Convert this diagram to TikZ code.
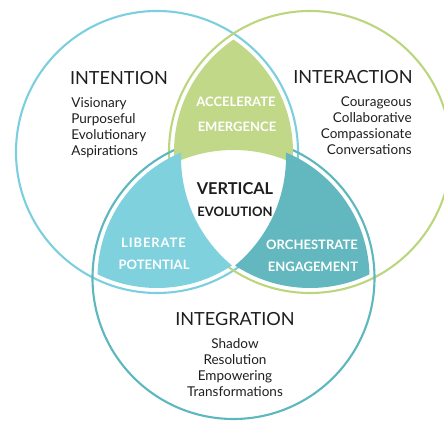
\documentclass[tikz,border=0pt]{standalone}
\usepackage{fontspec}
\setmainfont{Lato}

\definecolor{intentionblue}{HTML}{7CCFDF}
\definecolor{interactiongreen}{HTML}{BCD67E}
\definecolor{integrationteal}{HTML}{5DB7BF}
\definecolor{acceleratefill}{HTML}{C2D889}
\definecolor{liberatefill}{HTML}{80D1DE}
\definecolor{orchestratefill}{HTML}{62B8BE}
\definecolor{ink}{HTML}{1E1E1E}

\tikzset{
  ring/.style={line width=1.2pt},
  heading/.style={text=ink, font=\fontsize{10.3}{12}\selectfont, inner sep=0, anchor=base},
  body/.style={text=ink, font=\fontsize{7.7}{9.1}\selectfont, inner sep=0},
  lenslabel/.style={text=white, font=\bfseries\fontsize{7.4}{9}\selectfont, inner sep=0, anchor=base},
}

\begin{document}
\begin{tikzpicture}[x=0.02cm, y=-0.02cm]
        \useasboundingbox (0,0) rectangle (444,421);
        \clip (0,0) rectangle (444,421);

        % ring centres
        \coordinate (L) at (157,152);
        \coordinate (R) at (310,152);
        \coordinate (B) at (233.5,278);
        % arcs around the middle
        \coordinate (Lm) at (145,157);
        \coordinate (Rm) at (322,157);
        \coordinate (Bm) at (233.5,291);

        \draw[ring, intentionblue]    (L) circle (141);
        \draw[ring, interactiongreen] (R) circle (141);
        \draw[ring, integrationteal]  (B) circle (141);

        % the three lenses
        \begin{scope}
            \clip (L) circle (136);
            \clip (R) circle (136);
            \fill[acceleratefill, even odd rule] (0,0) rectangle (444,421) (Bm) circle (141);
        \end{scope}
        \begin{scope}
            \clip (L) circle (136);
            \clip (B) circle (136);
            \fill[liberatefill, even odd rule] (0,0) rectangle (444,421) (Rm) circle (141);
        \end{scope}
        \begin{scope}
            \clip (R) circle (136);
            \clip (B) circle (136);
            \fill[orchestratefill, even odd rule] (0,0) rectangle (444,421) (Lm) circle (141);
        \end{scope}

        \node[heading] (intention) at (119,84.5) {INTENTION};
        \node[body, anchor=north west, align=left] (intentionlist) at (71,97)
            {Visionary\\Purposeful\\Evolutionary\\Aspirations};

        \node[heading] (interaction) at (353,83.5) {INTERACTION};
        \node[body, anchor=north east, align=right] (interactionlist) at (412,96.5)
            {Courageous\\Collaborative\\Compassionate\\Conversations};

        \node[heading] (integration) at (235,325.5) {INTEGRATION};
        \node[body, anchor=north, align=center] (integrationlist) at (235,338.5)
            {Shadow\\Resolution\\Empowering\\Transformations};

        \node[lenslabel] (accelerate) at (236,106.5) {ACCELERATE};
        \node[lenslabel] (emergence)  at (237,131.5) {EMERGENCE};
        \node[lenslabel] (liberate)   at (153.5,247.5) {\addfontfeature{LetterSpace=7}LIBERATE};
        \node[lenslabel] (potential)  at (154,269.5) {POTENTIAL};
        \node[lenslabel] (orchestrate) at (312,249.5) {ORCHESTRATE};
        \node[lenslabel] (engagement)  at (313,271.5) {ENGAGEMENT};

        \node[lenslabel, text=ink, font=\bfseries\fontsize{9.3}{11}\selectfont] (vertical) at (235,195) {VERTICAL};
        \node[lenslabel, text=ink] (evolution) at (235,216.5) {EVOLUTION};
\end{tikzpicture}
\end{document}
